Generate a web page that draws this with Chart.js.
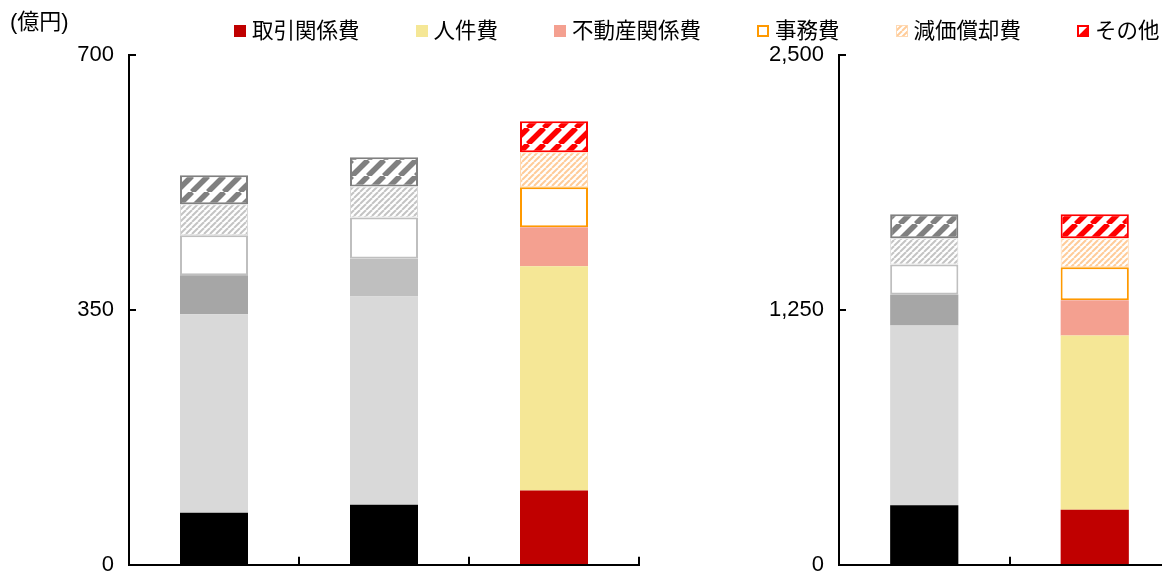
<!DOCTYPE html>
<html><head><meta charset="utf-8">
<script src="https://cdn.jsdelivr.net/npm/chart.js@4.4.1/dist/chart.umd.min.js"></script>
<style>
html,body{margin:0;padding:0;background:#fff;overflow:hidden;width:1162px;height:573px;}
#wrap{position:relative;width:1162px;height:573px;overflow:hidden;font-family:"Liberation Sans","Noto Sans CJK JP",sans-serif;color:#000;}
#c1{position:absolute;left:0;top:0;}
#c2{position:absolute;left:660px;top:0;}
#unit{position:absolute;left:10px;top:8px;font-size:22px;line-height:28px;}
#legend{position:absolute;left:234px;top:19px;display:flex;align-items:center;gap:56px;font-size:21.5px;line-height:24px;white-space:nowrap;}
.item{display:flex;align-items:center;}
.item canvas{margin-right:6px;display:block;}
</style></head>
<body><div id="wrap">
<canvas id="c1" width="660" height="593"></canvas>
<canvas id="c2" width="520" height="593"></canvas>
<div id="unit">(億円)</div>
<div id="legend"></div>
</div>
<script>
// ---- data ----
const seriesNames = ['取引関係費','人件費','不動産関係費','事務費','減価償却費','その他'];
const leftCategories = ['A','B','C'];
const rightCategories = ['D','E'];
const leftTrading      = [71.5, 82.5, 102];
const leftPersonnel    = [272.5, 286, 308];
const leftRealEstate   = [53.5, 52, 53.5];
const leftOffice       = [55, 56.5, 55];
const leftDepreciation = [42.5, 42.5, 48];
const leftOther        = [40, 40, 42.5];
const rightTrading      = [292, 270];
const rightPersonnel    = [882, 855];
const rightRealEstate   = [152, 172];
const rightOffice       = [147, 162];
const rightDepreciation = [128, 142];
const rightOther        = [118, 118];
const leftTicks  = [0, 350, 700];
const rightTicks = [0, 1250, 2500];

// ---- styles ----
function hatch(color, size, lw) {
  const c = document.createElement('canvas'); c.width = c.height = size;
  const x = c.getContext('2d');
  x.fillStyle = '#fff'; x.fillRect(0,0,size,size);
  x.strokeStyle = color; x.lineWidth = lw;
  for (let k=-1;k<=1;k++){ x.beginPath(); x.moveTo(k*size, size); x.lineTo(k*size+size, 0); x.stroke(); }
  return x.createPattern(c, 'repeat');
}
const grayA = [
  {bg:'#000000'},{bg:'#d9d9d9'},{bg:'#a6a6a6'},
  {bg:'#ffffff', bc:'#bfbfbf', bw:2},
  {bg:hatch('#c4c4c4',6,2), bc:'#d9d9d9', bw:1},
  {bg:hatch('#808080',16,5.5), bc:'#808080', bw:2}
];
const grayB = grayA.map((s,i)=> i===2 ? {bg:'#bfbfbf'} : s);
const colored = [
  {bg:'#c00000'},{bg:'#f5e796'},{bg:'#f4a090'},
  {bg:'#ffffff', bc:'#ff9900', bw:2},
  {bg:hatch('#ffcc99',6,2), bc:'#ffd9b3', bw:1},
  {bg:hatch('#ff0000',16,5.5), bc:'#ff0000', bw:2}
];

// ---- legend (HTML) ----
const legendEl = document.getElementById('legend');
seriesNames.forEach((n,i)=>{
  const it = document.createElement('div'); it.className='item';
  const sw = document.createElement('canvas'); sw.width = 12; sw.height = 12;
  const g = sw.getContext('2d'); const s = colored[i];
  g.fillStyle = s.bg; g.fillRect(0,0,12,12);
  if (s.bw) { g.strokeStyle = s.bc; g.lineWidth = s.bw; g.strokeRect(s.bw/2, s.bw/2, 12-s.bw, 12-s.bw); }
  const t = document.createElement('span'); t.textContent = n;
  it.appendChild(sw); it.appendChild(t); legendEl.appendChild(it);
});

// ---- inner tick marks ----
const innerTicks = {
  id:'innerTicks',
  afterDraw(chart){
    const {ctx, chartArea, scales:{x, y}} = chart;
    ctx.save(); ctx.strokeStyle = '#000'; ctx.lineWidth = 2;
    y.ticks.forEach((t,i)=>{
      const py = Math.round(y.getPixelForTick(i));
      ctx.beginPath(); ctx.moveTo(chartArea.left, py); ctx.lineTo(chartArea.left+7, py); ctx.stroke();
    });
    for (let i=0;i<x.ticks.length;i++){
      const px = Math.round(x.getPixelForValue(i+0.5));
      ctx.beginPath(); ctx.moveTo(px, chartArea.bottom); ctx.lineTo(px, chartArea.bottom-8); ctx.stroke();
    }
    ctx.restore();
  }
};

Chart.defaults.font.family = '"Liberation Sans","Noto Sans CJK JP",sans-serif';
Chart.defaults.color = '#000';

function makeChart(id, labels, data, variants, ticks, max, yWidth, padRight){
  return new Chart(document.getElementById(id), {
    type:'bar',
    data:{labels, datasets: seriesNames.map((name,i)=>({
      label:name, data:data[i],
      backgroundColor: variants.map(v=>v[i].bg),
      borderColor: variants.map(v=>v[i].bc || 'rgba(0,0,0,0)'),
      borderWidth: variants.map(v=>v[i].bw || 0),
      borderSkipped:false,
      categoryPercentage:1, barPercentage:0.4
    }))},
    options:{
      responsive:false, animation:false,
      layout:{padding:{top:55, right:padRight, left:0, bottom:0}},
      plugins:{legend:{display:false}, tooltip:{enabled:false}},
      scales:{
        x:{stacked:true, grid:{display:false, drawTicks:false}, ticks:{display:false},
           border:{display:true, color:'#000', width:2, z:1}},
        y:{stacked:true, min:0, max:max,
           afterBuildTicks: s=>{ s.ticks = ticks.map(v=>({value:v})); },
           afterFit: s=>{ s.width = yWidth; },
           grid:{display:false, drawTicks:false},
           border:{display:true, color:'#000', width:2, z:1},
           ticks:{padding:15, color:'#000', font:{size:22}}}
      }
    },
    plugins:[innerTicks]
  });
}

makeChart('c1', leftCategories,
  [leftTrading, leftPersonnel, leftRealEstate, leftOffice, leftDepreciation, leftOther],
  [grayA, grayB, colored], leftTicks, 700, 129, 21);
makeChart('c2', rightCategories,
  [rightTrading, rightPersonnel, rightRealEstate, rightOffice, rightDepreciation, rightOther],
  [grayA, colored], rightTicks, 2500, 179, 0);
</script>
</body></html>
